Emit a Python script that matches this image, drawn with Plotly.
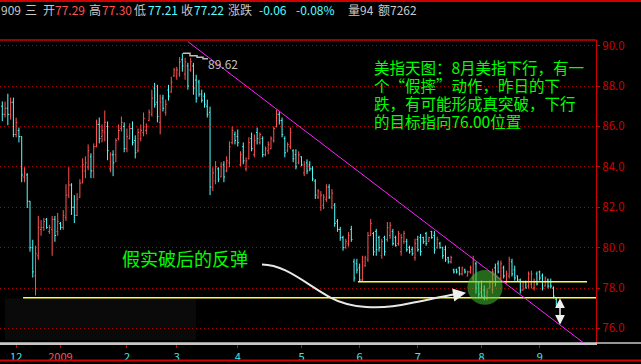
import plotly.graph_objects as go

# ---------------- data ----------------
opens = [87.0, 86.6, 86.9, 86.6, 87.2, 85.6, 85.8, 85.5, 83.5, 83.6,
         82.3, 80.0, 78.6, 79.6, 80.9, 81.0, 81.4, 80.8, 80.9, 81.4,
         80.8, 81.2, 81.0, 81.5, 82.6, 83.1, 82.0, 81.6, 82.5, 83.2,
         83.8, 84.0, 84.5, 83.8, 85.0, 86.1, 85.5, 85.7, 86.0, 83.9,
         84.6, 84.6, 85.4, 85.9, 86.0, 84.9, 85.4, 85.9, 85.3, 84.8,
         85.4, 85.7, 85.8, 86.3, 86.6, 87.9, 87.2, 86.2, 87.4, 86.7,
         87.8, 87.7, 88.5, 88.5, 88.6, 89.3, 88.6, 89.0, 88.8, 89.0,
         88.3, 88.2, 87.6, 87.5, 87.0, 86.7, 83.0, 83.3, 83.9, 83.5,
         84.1, 83.8, 84.2, 85.2, 85.6, 85.5, 84.1, 85.0, 83.9, 84.4,
         85.4, 84.6, 85.7, 85.2, 85.4, 84.6, 84.8, 84.9, 85.3, 86.0,
         86.6, 86.3, 85.4, 84.8, 85.0, 84.8, 84.6, 84.2, 84.5, 83.7,
         84.2, 84.1, 83.9, 83.3, 82.5, 82.0, 82.1, 82.4, 83.0, 82.0,
         82.1, 81.3, 80.9, 80.5, 80.0, 80.2, 80.9, 79.3, 79.2, 79.0,
         78.4, 79.1, 79.4, 80.6, 80.7, 80.8, 80.5, 79.6, 80.5, 80.4,
         80.6, 80.8, 80.5, 80.2, 79.8, 80.3, 80.3, 80.0, 79.9, 79.5,
         80.4, 80.5, 80.5, 80.7, 80.3, 80.8, 80.6, 80.0, 80.2, 80.0,
         79.9, 79.5, 79.3, 78.9, 78.9, 79.0, 78.7, 78.9, 78.6, 78.8,
         78.5, 79.2, 78.2, 77.8, 77.9, 77.5, 78.0, 77.9, 79.0, 79.2,
         78.5, 79.0, 78.3, 78.6, 79.3, 78.9, 78.6, 78.4, 77.9, 78.3,
         78.1, 78.2, 78.0, 78.7, 78.8, 78.6, 78.1, 78.4, 78.3, 78.0,
         77.45]
highs = [87.24, 87.23, 87.62, 87.43, 87.43, 86.44, 85.95, 85.51, 83.98, 83.69,
         82.31, 80.39, 80.09, 81.57, 81.37, 81.47, 81.47, 81.13, 81.57, 81.57,
         81.72, 81.27, 81.86, 83.14, 83.98, 83.19, 82.60, 82.70, 83.39, 84.42,
         84.52, 85.11, 84.67, 85.16, 86.34, 86.44, 86.10, 86.79, 86.25, 84.72,
         84.82, 85.41, 86.10, 86.49, 86.20, 85.90, 86.15, 86.25, 85.56, 85.90,
         86.10, 86.69, 86.15, 86.84, 87.82, 88.16, 88.06, 87.57, 87.57, 87.33,
         88.06, 88.46, 88.90, 88.95, 89.44, 89.62, 89.40, 89.15, 89.40, 89.15,
         88.56, 88.31, 87.82, 87.67, 87.33, 86.98, 83.98, 84.28, 83.98, 84.23,
         84.28, 84.52, 85.26, 86.00, 85.75, 85.85, 84.77, 85.21, 84.47, 85.46,
         85.70, 85.61, 85.95, 85.70, 85.51, 85.01, 85.26, 85.51, 86.00, 86.84,
         86.74, 86.44, 85.51, 85.21, 85.95, 84.87, 84.87, 84.77, 84.52, 84.28,
         84.37, 84.28, 84.03, 83.39, 82.90, 82.80, 82.65, 83.14, 83.14, 82.90,
         82.21, 81.42, 81.03, 80.59, 80.44, 80.78, 81.08, 79.45, 79.45, 79.21,
         79.60, 79.60, 80.78, 81.42, 80.78, 80.93, 80.59, 80.44, 80.59, 81.27,
         81.27, 80.93, 80.59, 80.83, 80.68, 80.83, 80.44, 80.10, 80.05, 80.44,
         80.59, 80.68, 80.54, 80.78, 80.54, 80.83, 80.83, 80.54, 80.29, 80.05,
         80.10, 79.55, 79.60, 78.96, 78.96, 79.06, 79.06, 78.96, 78.86, 79.11,
         79.60, 79.30, 78.32, 78.37, 78.13, 77.98, 78.37, 78.96, 79.21, 79.36,
         79.36, 79.11, 78.86, 79.55, 79.45, 79.11, 78.62, 78.47, 78.37, 78.37,
         78.82, 78.86, 78.47, 78.82, 78.86, 78.72, 78.57, 78.47, 78.47, 78.08,
         77.50]
lows = [86.26, 86.44, 86.06, 86.34, 85.47, 85.46, 85.21, 83.24, 83.24, 81.96,
        79.80, 78.52, 77.63, 79.40, 80.59, 80.83, 80.93, 80.68, 79.60, 80.29,
        80.59, 80.88, 80.88, 81.32, 82.46, 81.62, 81.22, 81.57, 82.46, 83.19,
        83.44, 83.83, 83.44, 83.44, 84.97, 85.16, 85.21, 85.26, 84.33, 83.73,
        83.54, 84.23, 85.31, 85.75, 84.72, 84.72, 85.36, 85.06, 84.42, 84.72,
        85.26, 85.51, 85.61, 86.29, 86.49, 86.93, 86.20, 85.61, 86.74, 86.54,
        87.28, 87.67, 88.46, 88.31, 88.46, 88.71, 88.31, 87.82, 88.71, 87.57,
        87.18, 87.47, 87.18, 86.93, 86.44, 82.60, 82.80, 83.14, 83.24, 83.49,
        83.24, 83.73, 83.98, 85.11, 85.11, 85.01, 84.03, 84.13, 83.78, 84.37,
        84.77, 84.47, 85.11, 85.11, 84.47, 84.52, 84.62, 84.87, 85.20, 85.95,
        86.10, 85.46, 84.47, 84.72, 84.87, 84.23, 83.88, 84.13, 84.03, 83.54,
        83.64, 83.78, 83.29, 82.41, 82.41, 81.82, 81.91, 82.26, 82.41, 81.91,
        81.03, 80.78, 80.34, 79.85, 79.95, 80.05, 80.29, 78.32, 78.72, 78.32,
        78.32, 79.06, 79.30, 80.59, 79.60, 79.60, 79.80, 79.45, 79.60, 80.29,
        80.44, 80.10, 80.05, 80.10, 79.60, 80.19, 79.80, 79.70, 79.60, 79.36,
        79.80, 79.60, 80.19, 80.10, 80.29, 80.44, 79.70, 79.95, 79.95, 79.45,
        79.30, 79.21, 79.21, 78.72, 78.72, 78.62, 78.62, 78.72, 78.57, 78.72,
        78.32, 77.73, 77.49, 77.49, 77.39, 77.39, 77.98, 77.73, 78.08, 78.72,
        78.37, 78.47, 78.22, 78.47, 78.57, 78.37, 78.32, 77.73, 77.88, 77.98,
        77.98, 77.98, 77.88, 78.13, 78.37, 77.88, 78.08, 77.98, 77.98, 77.49,
        77.10]
closes = [86.6, 86.9, 86.6, 87.2, 85.6, 86.2, 85.5, 83.6, 83.7, 82.3,
          80.0, 78.8, 79.7, 81.0, 81.0, 81.3, 81.0, 81.0, 81.4, 80.6,
          81.3, 81.0, 81.6, 82.6, 83.1, 82.0, 81.6, 82.4, 83.2, 84.1,
          84.2, 84.8, 83.8, 85.0, 86.1, 85.4, 85.8, 86.2, 84.8, 84.6,
          84.2, 85.3, 85.8, 86.2, 84.9, 85.5, 85.9, 85.2, 84.7, 85.7,
          85.8, 86.4, 86.0, 86.7, 87.4, 87.1, 86.5, 87.2, 86.9, 87.1,
          87.5, 88.2, 88.8, 88.8, 89.2, 89.0, 89.2, 88.0, 89.2, 87.9,
          87.4, 87.6, 87.3, 87.1, 86.6, 83.0, 83.7, 84.0, 83.4, 84.0,
          83.5, 84.3, 85.0, 85.8, 85.3, 85.2, 84.6, 84.3, 84.3, 85.2,
          84.9, 85.3, 85.4, 85.6, 84.6, 84.9, 85.1, 85.4, 85.9, 86.6,
          86.3, 85.6, 84.7, 85.1, 85.7, 84.4, 84.0, 84.6, 84.1, 84.1,
          83.8, 83.9, 83.4, 82.6, 82.8, 82.6, 82.5, 83.0, 82.5, 82.7,
          81.2, 80.9, 80.5, 80.0, 80.3, 80.6, 80.4, 78.5, 78.9, 78.4,
          79.3, 79.5, 80.6, 81.2, 79.8, 79.9, 80.0, 80.3, 79.8, 81.0,
          81.1, 80.2, 80.1, 80.7, 80.5, 80.7, 79.9, 79.8, 79.7, 80.2,
          79.9, 79.8, 80.3, 80.2, 80.5, 80.5, 79.9, 80.4, 80.0, 79.6,
          79.4, 79.3, 79.5, 78.8, 78.8, 78.7, 79.0, 78.8, 78.8, 79.0,
          79.4, 78.0, 77.7, 77.6, 77.6, 77.8, 78.3, 78.8, 78.3, 78.8,
          79.2, 78.6, 78.7, 79.4, 78.7, 78.5, 78.4, 77.9, 78.3, 78.0,
          78.7, 78.7, 78.3, 78.2, 78.5, 78.0, 78.5, 78.1, 78.1, 77.6,
          77.22]
bar_index = list(range(len(closes)))

month_tick_index = [5, 21, 45, 63, 85, 108, 129, 150, 173, 194]
month_tick_text = ["12", "2009", "2", "3", "4", "5", "6", "7", "8", "9"]
price_ticks = [76, 78, 80, 82, 84, 86, 88, 90]

peak_label = "89.62"
trend_points_x = [67.0, 209.6]
trend_points_y = [90.20, 75.31]
support_levels = [78.31, 77.52]
support_start = [128.4, 7.5]
support_end = [211.1, 214.33]

header_parts = [("909", "#c8c8c8"), ("三", "#c8c8c8"), ("开", "#c8c8c8"), ("77.29", "#ff5454"),
                ("高", "#c8c8c8"), ("77.30", "#ff5454"), ("低", "#c8c8c8"), ("77.21", "#54ffff"),
                ("收", "#c8c8c8"), ("77.22", "#54ffff"), ("涨跌", "#c8c8c8"), ("-0.06", "#54ffff"),
                ("-0.08%", "#54ffff"), ("量94", "#c8c8c8"), ("额7262", "#c8c8c8")]
header_x = [0, 24, 42, 54, 88, 101, 133, 147, 180, 193, 227, 258, 295, 347, 377]

comment_lines = ["美指天图：8月美指下行，有一",
                 "个“假摔”动作，昨日的下",
                 "跌，有可能形成真突破，下行",
                 "的目标指向76.00位置"]
rebound_text = "假实破后的反弹"

# ---------------- layout geometry ----------------
W, H = 641, 364
ML, MR, MT, MB = 0, 45, 40, 19
PW, PH = W - ML - MR, H - MT - MB


def px(x):
    return (x - ML) / PW


def py(y):
    return (H - MB - y) / PH


CJK = "Noto Sans CJK SC"

fig = go.Figure()
fig.add_trace(go.Ohlc(
    x=bar_index, open=opens, high=highs, low=lows, close=closes,
    increasing=dict(line=dict(color="#ff5454", width=1)),
    decreasing=dict(line=dict(color="#54ffff", width=1)),
    tickwidth=0.4, hoverinfo="skip", showlegend=False))

shapes = []
# frame lines
shapes.append(dict(type="line", xref="paper", yref="paper", x0=px(0), x1=px(W), y0=py(0.8), y1=py(0.8),
                   line=dict(color="#d00000", width=2)))
shapes.append(dict(type="line", xref="paper", yref="paper", x0=0, x1=1, y0=1, y1=1,
                   line=dict(color="#d00000", width=1.5)))
shapes.append(dict(type="line", xref="paper", yref="paper", x0=px(0), x1=px(W), y0=0, y1=0,
                   line=dict(color="#c8c8c8", width=1.5)))
shapes.append(dict(type="line", xref="paper", yref="paper", x0=px(0), x1=px(W), y0=py(362.5), y1=py(362.5),
                   line=dict(color="#d00000", width=2)))
# faint dark box lower-left
shapes.append(dict(type="rect", xref="paper", yref="paper", x0=px(5), x1=px(196), y0=py(342), y1=py(300),
                   fillcolor="#0a0a0a", line=dict(width=0), layer="below"))
# support lines
for lvl, s, e in zip(support_levels, support_start, support_end):
    shapes.append(dict(type="line", xref="x", yref="y", x0=s, x1=e, y0=lvl, y1=lvl,
                       line=dict(color="#ffff3c", width=1.5)))
# trend line
shapes.append(dict(type="line", xref="x", yref="y", x0=trend_points_x[0], x1=trend_points_x[1],
                   y0=trend_points_y[0], y1=trend_points_y[1], line=dict(color="#ff20ff", width=1)))
# green highlight circle
shapes.append(dict(type="circle", xref="x", yref="y", x0=167.9, x1=180.6, y0=77.17, y1=78.89,
                   fillcolor="rgba(70,190,50,0.55)", line=dict(width=0), layer="above"))


def path(pts_cmds):
    out = []
    for cmd, pts in pts_cmds:
        coords = " ".join(f"{px(x):.5f},{py(y):.5f}" for x, y in pts)
        out.append(f"{cmd}{coords}")
    return " ".join(out)


curve = path([("M", [(262, 266)]),
              ("C", [(285, 266), (305, 285), (330, 299)]),
              ("C", [(350, 310), (380, 312), (410, 305)]),
              ("C", [(430, 301), (448, 297), (458, 295.5)])])
shapes.append(dict(type="path", xref="paper", yref="paper", path=curve,
                   line=dict(color="#e8e8e8", width=2)))
leader = path([("M", [(183, 53.3)]), ("L", [(190, 53.3)]), ("L", [(190, 55.8)]), ("L", [(197, 55.8)]),
               ("L", [(197, 57.4)]), ("L", [(203, 57.4)]), ("L", [(203, 58.8)]), ("L", [(208, 58.8)])])
shapes.append(dict(type="path", xref="paper", yref="paper", path=leader,
                   line=dict(color="#c0c0c0", width=1.5)))

annotations = []
for (txt, col), x in zip(header_parts, header_x):
    annotations.append(dict(xref="paper", yref="paper", x=px(x), y=py(9), text=txt, showarrow=False,
                            xanchor="left", yanchor="middle", font=dict(family=CJK, size=12, color=col),
                            borderpad=0))
for i, line in enumerate(comment_lines):
    annotations.append(dict(xref="paper", yref="paper", x=px(373), y=py(67.2 + 18.2 * i), text=line,
                            showarrow=False, xanchor="left", yanchor="middle", borderpad=0,
                            font=dict(family=CJK, size=15.5, color="#00ff00")))
annotations.append(dict(xref="paper", yref="paper", x=px(121), y=py(259), text=rebound_text,
                        showarrow=False, xanchor="left", yanchor="middle", borderpad=0,
                        font=dict(family=CJK, size=18, color="#00ff00")))
annotations.append(dict(xref="paper", yref="paper", x=px(207), y=py(64), text=peak_label,
                        showarrow=False, xanchor="left", yanchor="middle", borderpad=0,
                        font=dict(family=CJK, size=12, color="#c0c0c0")))
# arrow head of the curve
annotations.append(dict(xref="paper", yref="paper", x=px(466), y=py(294.5), text="", showarrow=True,
                        ax=-12, ay=2, arrowhead=2, arrowsize=1.3, arrowwidth=2, arrowcolor="#f0f0f0"))
# double arrow
annotations.append(dict(xref="paper", yref="paper", x=px(560), y=py(300), text="", showarrow=True,
                        ax=0, ay=28, arrowhead=2, arrowside="end+start", arrowsize=1.3, arrowwidth=1.5,
                        arrowcolor="#f0f0f0"))

tick_text = []
for t in month_tick_text:
    if t == "2009":
        tick_text.append('<span style="color:#ff5454">2009</span>')
    else:
        tick_text.append(t)

fig.update_layout(
    width=W, height=H, margin=dict(l=ML, r=MR, t=MT, b=MB, pad=0),
    paper_bgcolor="#000000", plot_bgcolor="#000000",
    showlegend=False, shapes=shapes, annotations=annotations,
    xaxis=dict(range=[-0.83, 214.33], tickvals=month_tick_index, ticktext=tick_text,
               showgrid=False, zeroline=False, showline=True, linecolor="#c8c8c8", linewidth=1.5,
               ticks="outside", ticklen=3, tickcolor="#d00000", tickwidth=1,
               tickfont=dict(family=CJK, size=11, color="#40e8e8"),
               rangeslider=dict(visible=False), fixedrange=True),
    yaxis=dict(side="right", range=[75.28, 90.28], tickvals=price_ticks, tickformat=".1f",
               showgrid=True, gridcolor="#b00000", griddash="1px,3px", gridwidth=1,
               zeroline=False, showline=True, linecolor="#d00000", linewidth=1,
               ticks="outside", ticklen=3, tickcolor="#d00000",
               tickfont=dict(family=CJK, size=11.5, color="#d00000"), fixedrange=True),
)

fig.write_html("out.html", config={"displayModeBar": False, "staticPlot": True},
               post_script="document.body.style.margin='0';document.body.style.padding='0';"
                           "document.body.style.overflow='hidden';document.body.style.background='#000';")
